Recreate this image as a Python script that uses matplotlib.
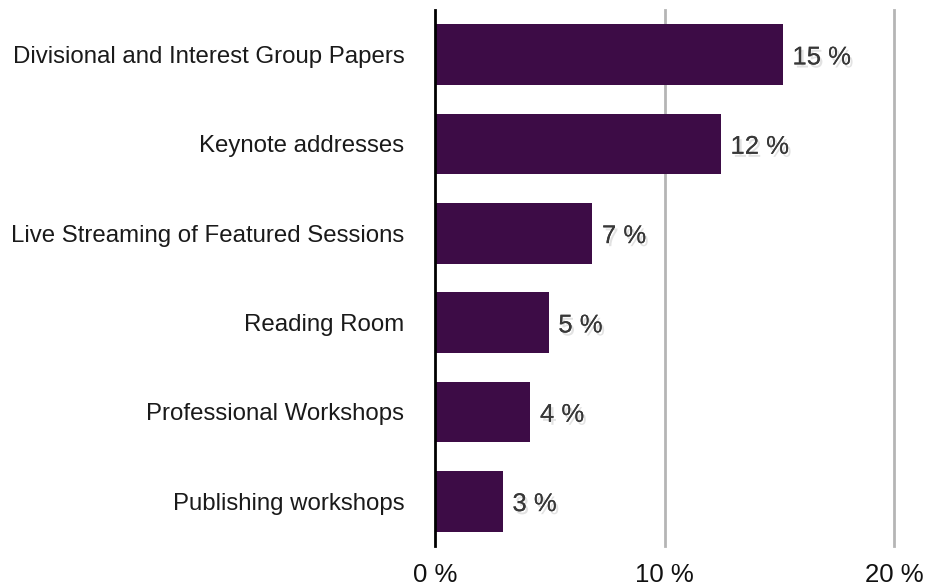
import matplotlib.pyplot as plt
import matplotlib.patheffects as pe

plt.rcParams['font.family'] = ['Liberation Sans', 'DejaVu Sans']

categories = [
    "Divisional and Interest Group Papers",
    "Keynote addresses",
    "Live Streaming of Featured Sessions",
    "Reading Room",
    "Professional Workshops",
    "Publishing workshops",
]
values = [15.15, 12.45, 6.85, 4.95, 4.15, 2.95]
value_labels = ["15 %", "12 %", "7 %", "5 %", "4 %", "3 %"]
x_ticks = [0, 10, 20]
x_tick_labels = ["0 %", "10 %", "20 %"]

bar_color = "#3d0c46"

fig = plt.figure(figsize=(9.26, 5.87), dpi=100)
ax = fig.add_axes([435 / 926, 1 - 546 / 587, (894 - 435) / 926, (546 - 10) / 587])

ypos = list(range(len(categories)))
ax.barh(ypos, values, height=0.68, color=bar_color, zorder=3)

# faint drop shadow under the value labels
shadow = [pe.withSimplePatchShadow(offset=(1.8, -2.2), shadow_rgbFace="#999999", alpha=0.28),
          pe.Normal()]
for y, v, lab in zip(ypos, values, value_labels):
    ax.annotate(lab, (v, y), xytext=(7, -2), textcoords="offset points",
                ha="left", va="center", fontsize=18.5, color="#383838",
                path_effects=shadow)

ax.set_xlim(0, 20)
ax.set_ylim(len(categories) - 0.5, -0.5)
ax.set_yticks(ypos)
ax.set_yticklabels(categories, fontsize=17.3, color="#1a1a1a")
ax.set_xticks(x_ticks)
ax.set_xticklabels(x_tick_labels, fontsize=18.5, color="#111111")
ax.tick_params(axis="y", length=0, pad=22)
ax.tick_params(axis="x", length=0, pad=12)

for x in x_ticks[1:]:
    ax.axvline(x, color="#b5b5b5", linewidth=2, zorder=1, clip_on=False)

for side in ("top", "right", "bottom"):
    ax.spines[side].set_visible(False)
ax.spines["left"].set_linewidth(2)
ax.spines["left"].set_color("black")
ax.spines["left"].set_zorder(4)

fig.savefig("out.png", dpi=100)
